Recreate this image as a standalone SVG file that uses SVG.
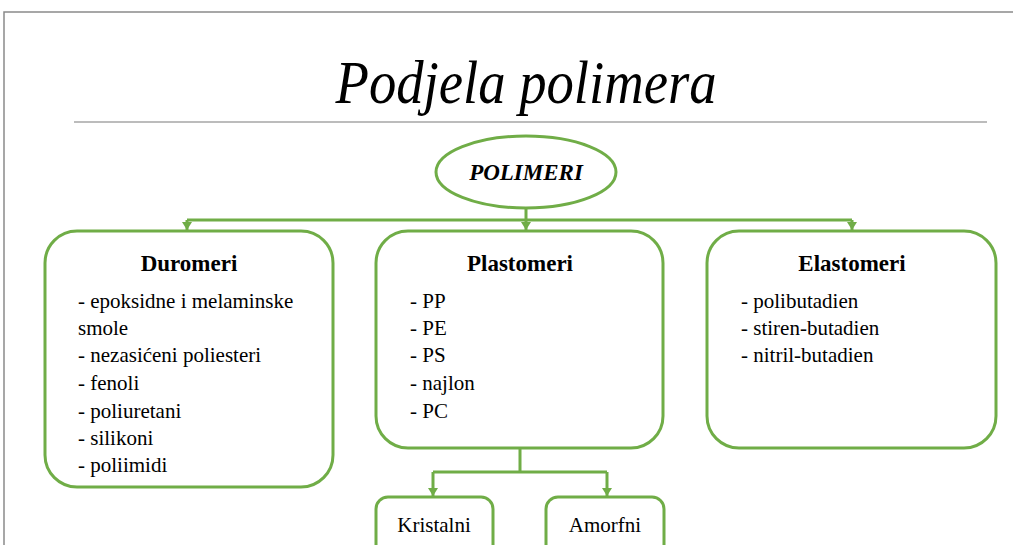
<svg xmlns="http://www.w3.org/2000/svg" width="1013" height="545" viewBox="0 0 1013 545">
<style>
.box{fill:#fff;stroke:#70AD47;stroke-width:3}
.con{fill:none;stroke:#70AD47;stroke-width:3}
.t{font-family:"Liberation Serif","Times New Roman",serif;fill:#000}
.h{font-size:23px;font-weight:bold;text-anchor:middle}
.i{font-size:21px}
</style>
<defs>
<marker id="ad" markerUnits="userSpaceOnUse" markerWidth="10" markerHeight="10" viewBox="0 0 10 10" refX="5" refY="9" orient="0">
<path d="M0,1 L10,1 L5,9 Z" fill="#70AD47"/>
</marker>
</defs>
<rect width="1013" height="545" fill="#fff"/>
<g id="frame">
<path d="M4,545 L4,12 L1013,12" fill="none" stroke="#8a8a8a" stroke-width="1.5"/>
</g>
<g id="title">
<text class="t" x="526" y="103" font-size="62" font-style="italic" text-anchor="middle" textLength="381" lengthAdjust="spacingAndGlyphs">Podjela polimera</text>
<line x1="74" y1="122" x2="987" y2="122" stroke="#a6a6a6" stroke-width="1.5"/>
</g>
<g id="connectors">
<path class="con" d="M526,208 V220"/>
<path class="con" d="M187,220 H852"/>
<path class="con" d="M187,220 V230" marker-end="url(#ad)"/>
<path class="con" d="M526,220 V230" marker-end="url(#ad)"/>
<path class="con" d="M852,220 V230" marker-end="url(#ad)"/>
<path class="con" d="M520,449 V472 M433,472 H607"/>
<path class="con" d="M433,472 V496" marker-end="url(#ad)"/>
<path class="con" d="M607,472 V496" marker-end="url(#ad)"/>
</g>
<g id="polimeri">
<ellipse class="box" cx="526" cy="172" rx="90" ry="36"/>
<text class="t" x="526" y="180" font-size="23" font-weight="bold" font-style="italic" text-anchor="middle">POLIMERI</text>
</g>
<g id="duromeri">
<rect class="box" x="45" y="231" width="288" height="256" rx="32"/>
<text class="t h" x="189" y="271">Duromeri</text>
<text class="t i" x="78" y="308">- epoksidne i melaminske</text>
<text class="t i" x="78" y="335">smole</text>
<text class="t i" x="78" y="362">- nezasićeni poliesteri</text>
<text class="t i" x="78" y="390">- fenoli</text>
<text class="t i" x="78" y="418">- poliuretani</text>
<text class="t i" x="78" y="445">- silikoni</text>
<text class="t i" x="78" y="472">- poliimidi</text>
</g>
<g id="plastomeri">
<rect class="box" x="376" y="231" width="287" height="217" rx="32"/>
<text class="t h" x="520" y="271">Plastomeri</text>
<text class="t i" x="410" y="308">- PP</text>
<text class="t i" x="410" y="335">- PE</text>
<text class="t i" x="410" y="362">- PS</text>
<text class="t i" x="410" y="390">- najlon</text>
<text class="t i" x="410" y="418">- PC</text>
</g>
<g id="elastomeri">
<rect class="box" x="707" y="231" width="289" height="217" rx="32"/>
<text class="t h" x="852" y="271">Elastomeri</text>
<text class="t i" x="741" y="308">- polibutadien</text>
<text class="t i" x="741" y="335">- stiren-butadien</text>
<text class="t i" x="741" y="362">- nitril-butadien</text>
</g>
<g id="kristalni">
<rect class="box" x="376" y="497" width="117" height="70" rx="12"/>
<text class="t i" x="434" y="532" text-anchor="middle">Kristalni</text>
</g>
<g id="amorfni">
<rect class="box" x="546" y="497" width="118" height="70" rx="12"/>
<text class="t i" x="605" y="532" text-anchor="middle">Amorfni</text>
</g>
</svg>
